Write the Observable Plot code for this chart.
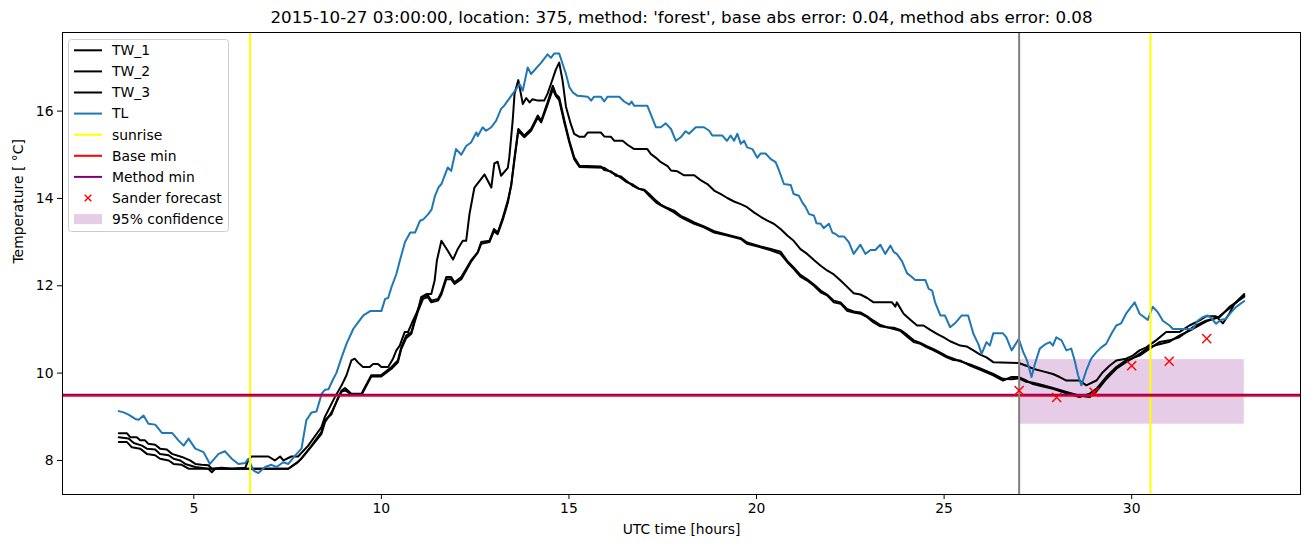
<!DOCTYPE html>
<html>
<head>
<meta charset="utf-8">
<script src="https://cdn.jsdelivr.net/npm/d3@7"></script>
<script src="https://cdn.jsdelivr.net/npm/@observablehq/plot@0.6"></script>
<style>
  html, body { margin: 0; padding: 0; background: white; }
  svg { display: block; }
</style>
</head>
<body>
<div id="chart"></div>
<script>
// ---------- data (hours UTC, temperature °C) ----------
const tw1 = [[3.0,8.62],[3.22,8.62],[3.31,8.53],[3.48,8.53],[3.57,8.46],[3.7,8.46],[3.79,8.38],[3.97,8.36],[4.1,8.27],[4.28,8.25],[4.42,8.15],[4.68,8.08],[4.9,8.0],[5.04,7.92],[5.21,7.9],[5.39,7.89],[5.48,7.81],[5.75,7.83],[6.01,7.81],[6.37,7.83],[6.45,8.0],[6.54,8.09],[6.99,8.09],[7.16,8.0],[7.3,8.09],[7.39,8.0],[7.6,8.09],[7.78,8.09],[8.05,8.34],[8.4,8.76],[8.49,8.99],[8.76,9.45],[8.94,9.72],[9.07,9.95],[9.2,10.29],[9.29,10.33],[9.38,10.24],[9.51,10.14],[9.69,10.14],[9.78,10.21],[9.91,10.21],[10.0,10.14],[10.18,10.14],[10.31,10.33],[10.4,10.52],[10.49,10.63],[10.62,10.94],[10.71,10.94],[10.84,11.2],[10.97,11.43],[11.06,11.74],[11.2,11.81],[11.33,11.81],[11.42,12.12],[11.48,12.58],[11.6,13.03],[11.77,12.8],[11.91,12.6],[12.04,12.85],[12.17,13.03],[12.26,13.03],[12.35,13.65],[12.48,14.25],[12.66,14.45],[12.75,14.55],[12.93,14.25],[13.01,14.8],[13.1,14.84],[13.19,14.52],[13.37,14.7],[13.41,14.94],[13.5,15.78],[13.55,16.4],[13.65,16.71],[13.77,16.16],[13.86,16.3],[13.95,16.2],[14.03,16.27],[14.17,16.24],[14.34,16.24],[14.43,16.4],[14.52,16.62],[14.65,16.95],[14.74,17.11],[14.83,16.7],[14.92,16.1],[15.05,15.7],[15.14,15.48],[15.28,15.41],[15.41,15.41],[15.5,15.51],[15.85,15.51],[15.94,15.42],[16.12,15.41],[16.21,15.32],[16.43,15.32],[16.56,15.23],[16.74,15.13],[17.09,15.13],[17.18,15.02],[17.32,14.93],[17.45,14.83],[17.63,14.74],[17.72,14.64],[17.89,14.62],[18.07,14.53],[18.34,14.53],[18.51,14.42],[18.69,14.33],[18.87,14.18],[19.05,14.1],[19.22,14.01],[19.4,13.93],[19.58,13.87],[19.75,13.8],[19.93,13.68],[20.11,13.58],[20.29,13.49],[20.46,13.42],[20.64,13.3],[20.82,13.15],[20.99,13.03],[21.17,12.84],[21.35,12.73],[21.53,12.59],[21.71,12.46],[21.88,12.35],[22.06,12.26],[22.24,12.12],[22.41,11.98],[22.59,11.83],[22.77,11.8],[22.95,11.72],[23.12,11.62],[23.61,11.62],[23.7,11.52],[23.74,11.62],[23.92,11.36],[24.1,11.22],[24.28,11.09],[24.45,11.09],[24.63,10.99],[24.81,10.9],[24.99,10.82],[25.16,10.73],[25.43,10.63],[25.6,10.61],[25.78,10.52],[25.95,10.43],[26.13,10.36],[26.31,10.25],[26.99,10.23],[27.19,10.17],[27.37,10.1],[27.64,10.04],[27.9,9.98],[28.08,9.91],[28.26,9.83],[28.61,9.83],[28.79,9.72],[29.06,9.83],[29.23,10.02],[29.41,10.17],[29.59,10.29],[29.85,10.33],[30.03,10.4],[30.21,10.52],[30.39,10.59],[30.65,10.75],[30.92,10.94],[31.27,10.94],[31.54,11.09],[31.8,11.2],[31.98,11.3],[32.25,11.3],[32.43,11.14],[32.6,11.36],[32.74,11.59],[33.0,11.81]];

const tw2 = [[3.0,8.53],[3.26,8.5],[3.4,8.4],[3.62,8.34],[3.75,8.27],[3.97,8.25],[4.1,8.15],[4.33,8.12],[4.46,8.04],[4.64,8.0],[4.77,7.92],[5.04,7.85],[5.39,7.81],[5.48,7.73],[5.57,7.81],[7.52,7.81],[7.7,7.92],[7.87,8.04],[8.14,8.34],[8.4,8.65],[8.49,8.92],[8.67,9.06],[8.85,9.45],[8.94,9.6],[9.03,9.66],[9.2,9.53],[9.47,9.53],[9.73,9.95],[9.99,9.95],[10.27,10.14],[10.44,10.29],[10.53,10.59],[10.66,10.86],[10.8,10.94],[10.88,11.2],[10.97,11.45],[11.11,11.74],[11.24,11.78],[11.33,11.66],[11.51,11.7],[11.6,11.85],[11.73,12.2],[11.86,12.2],[11.95,12.08],[12.13,12.2],[12.26,12.39],[12.39,12.58],[12.57,12.77],[12.66,13.0],[12.88,13.03],[13.0,13.3],[13.1,13.22],[13.24,13.57],[13.37,13.95],[13.46,14.3],[13.55,14.94],[13.65,15.59],[13.81,15.44],[13.99,15.59],[14.17,15.9],[14.26,15.78],[14.43,16.2],[14.57,16.58],[14.65,16.39],[14.74,16.31],[14.88,15.78],[15.01,15.32],[15.14,14.94],[15.28,14.75],[15.85,14.73],[15.94,14.65],[16.12,14.62],[16.25,14.52],[16.39,14.5],[16.52,14.41],[16.7,14.29],[16.87,14.22],[17.01,14.18],[17.14,14.06],[17.32,13.91],[17.45,13.84],[17.63,13.76],[17.8,13.68],[17.98,13.57],[18.16,13.49],[18.34,13.42],[18.6,13.34],[18.87,13.22],[19.22,13.15],[19.58,13.07],[19.75,12.96],[20.11,12.88],[20.38,12.81],[20.64,12.73],[20.82,12.54],[20.99,12.39],[21.17,12.21],[21.35,12.12],[21.53,12.0],[21.71,11.85],[21.88,11.78],[22.06,11.62],[22.24,11.59],[22.41,11.43],[22.59,11.39],[22.77,11.36],[22.95,11.28],[23.12,11.16],[23.3,11.07],[23.48,11.05],[23.66,11.01],[23.83,10.97],[24.01,10.84],[24.19,10.71],[24.37,10.67],[24.54,10.59],[24.72,10.52],[24.9,10.44],[25.07,10.36],[25.25,10.3],[25.42,10.29],[25.69,10.17],[25.95,10.08],[26.31,9.95],[26.57,9.83],[26.8,9.91],[26.99,9.91],[27.19,9.83],[27.37,9.75],[27.64,9.69],[27.9,9.64],[28.26,9.54],[28.61,9.45],[28.88,9.53],[29.06,9.64],[29.32,9.91],[29.59,10.14],[29.85,10.29],[30.21,10.4],[30.48,10.56],[30.74,10.71],[31.01,10.75],[31.27,10.82],[31.63,11.05],[31.98,11.2],[32.34,11.28],[32.6,11.51],[33.0,11.75]];

const tw3 = [[3.0,8.42],[3.22,8.42],[3.35,8.3],[3.57,8.27],[3.75,8.15],[3.97,8.12],[4.1,8.04],[4.33,8.0],[4.46,7.92],[4.68,7.9],[4.86,7.81],[7.52,7.81],[7.78,7.96],[8.05,8.23],[8.4,8.6],[8.5,8.88],[8.67,9.1],[8.85,9.42],[8.94,9.58],[9.05,9.6],[9.22,9.5],[9.47,9.5],[9.73,9.92],[9.99,9.92],[10.27,10.1],[10.44,10.25],[10.53,10.55],[10.66,10.8],[10.8,10.9],[10.88,11.15],[10.97,11.4],[11.11,11.7],[11.24,11.74],[11.33,11.62],[11.51,11.66],[11.6,11.8],[11.73,12.15],[11.86,12.15],[11.95,12.04],[12.13,12.15],[12.26,12.35],[12.39,12.55],[12.57,12.76],[12.66,12.96],[12.88,13.0],[13.0,13.25],[13.1,13.18],[13.24,13.52],[13.37,13.9],[13.46,14.3],[13.55,14.9],[13.65,15.55],[13.81,15.4],[13.99,15.55],[14.17,15.85],[14.26,15.74],[14.43,16.15],[14.57,16.5],[14.65,16.35],[14.74,16.25],[14.88,15.72],[15.01,15.28],[15.14,14.9],[15.28,14.72],[15.94,14.7],[16.12,14.6],[16.25,14.55],[16.39,14.47],[16.52,14.38],[16.7,14.32],[16.87,14.22],[17.01,14.2],[17.14,14.1],[17.32,13.95],[17.45,13.86],[17.63,13.78],[17.8,13.72],[17.98,13.6],[18.16,13.53],[18.34,13.45],[18.6,13.36],[18.87,13.25],[19.22,13.17],[19.58,13.09],[19.75,12.99],[20.11,12.9],[20.38,12.84],[20.64,12.78],[20.82,12.57],[20.99,12.42],[21.17,12.25],[21.35,12.15],[21.53,12.03],[21.71,11.89],[21.88,11.8],[22.06,11.66],[22.24,11.62],[22.41,11.47],[22.59,11.41],[22.77,11.39],[22.95,11.3],[23.12,11.2],[23.3,11.1],[23.48,11.05],[23.66,11.04],[23.83,10.99],[24.01,10.88],[24.19,10.75],[24.37,10.69],[24.54,10.62],[24.72,10.55],[24.9,10.47],[25.07,10.39],[25.25,10.33],[25.43,10.27],[25.69,10.2],[25.95,10.11],[26.31,9.98],[26.57,9.87],[26.8,9.86],[26.99,9.88],[27.19,9.8],[27.37,9.78],[27.64,9.72],[27.9,9.66],[28.26,9.57],[28.61,9.48],[28.88,9.45],[29.06,9.58],[29.32,9.86],[29.59,10.1],[29.85,10.25],[30.21,10.44],[30.48,10.6],[30.74,10.66],[31.01,10.72],[31.27,10.86],[31.63,11.01],[31.98,11.18],[32.34,11.3],[32.6,11.48],[33.0,11.78]];

const tl = [[3.0,9.13],[3.13,9.1],[3.26,9.05],[3.44,8.95],[3.53,8.93],[3.66,9.03],[3.79,8.84],[3.97,8.82],[4.15,8.63],[4.42,8.63],[4.59,8.46],[4.73,8.34],[4.86,8.5],[5.04,8.27],[5.26,8.19],[5.43,7.92],[5.66,8.15],[5.83,8.21],[6.01,8.04],[6.19,7.92],[6.37,7.94],[6.45,8.04],[6.59,7.77],[6.72,7.71],[6.9,7.85],[7.07,7.9],[7.21,7.85],[7.38,7.96],[7.52,7.92],[7.7,8.11],[7.87,8.27],[8.0,8.92],[8.14,9.1],[8.27,9.12],[8.41,9.53],[8.5,9.62],[8.59,9.63],[8.72,9.87],[8.8,10.0],[8.94,10.36],[9.07,10.67],[9.25,11.01],[9.38,11.16],[9.52,11.32],[9.7,11.42],[10.0,11.42],[10.1,11.7],[10.18,11.72],[10.27,11.97],[10.4,12.27],[10.5,12.6],[10.63,13.0],[10.77,13.22],[10.9,13.22],[11.03,13.49],[11.12,13.52],[11.25,13.64],[11.34,13.75],[11.43,14.06],[11.52,14.25],[11.6,14.33],[11.77,14.71],[11.86,14.63],[11.99,15.13],[12.13,15.0],[12.26,15.2],[12.39,15.28],[12.53,15.51],[12.57,15.43],[12.7,15.63],[12.79,15.55],[12.93,15.63],[13.06,15.78],[13.19,16.05],[13.28,16.13],[13.46,16.35],[13.59,16.5],[13.68,16.62],[13.77,16.47],[13.9,17.0],[13.99,16.85],[14.26,17.11],[14.43,17.3],[14.52,17.22],[14.61,17.32],[14.74,17.32],[14.92,16.85],[15.01,16.55],[15.1,16.43],[15.23,16.35],[15.5,16.33],[15.59,16.24],[15.67,16.33],[15.85,16.33],[15.94,16.22],[16.03,16.33],[16.34,16.33],[16.47,16.22],[16.61,16.15],[16.67,16.22],[16.74,16.12],[17.09,16.12],[17.18,15.93],[17.32,15.63],[17.45,15.63],[17.58,15.72],[17.72,15.59],[17.85,15.32],[17.98,15.4],[18.11,15.54],[18.2,15.48],[18.38,15.63],[18.6,15.63],[18.74,15.55],[18.82,15.44],[19.09,15.44],[19.21,15.32],[19.31,15.44],[19.4,15.32],[19.49,15.48],[19.58,15.25],[19.67,15.32],[19.75,15.17],[19.89,15.13],[20.02,14.93],[20.11,15.03],[20.24,15.03],[20.38,14.9],[20.51,14.83],[20.6,14.64],[20.73,14.33],[20.91,14.31],[20.99,14.1],[21.13,14.06],[21.22,13.91],[21.31,13.8],[21.4,13.64],[21.53,13.61],[21.6,13.43],[21.71,13.42],[21.79,13.32],[21.93,13.42],[22.02,13.22],[22.1,13.19],[22.19,13.13],[22.33,13.13],[22.46,13.0],[22.59,12.73],[22.68,12.84],[22.77,12.94],[22.9,12.73],[23.04,12.82],[23.17,12.82],[23.3,12.94],[23.43,12.73],[23.57,12.92],[23.66,12.77],[23.74,12.73],[23.88,12.56],[24.01,12.29],[24.14,12.2],[24.23,12.13],[24.5,12.13],[24.59,11.93],[24.68,11.89],[24.76,11.62],[24.9,11.32],[25.02,11.32],[25.16,11.05],[25.29,11.14],[25.47,11.32],[25.64,11.32],[25.78,10.9],[25.91,10.67],[26.0,10.44],[26.13,10.71],[26.22,10.63],[26.31,10.91],[26.57,10.91],[26.66,10.82],[26.8,10.52],[26.88,10.63],[26.99,10.78],[27.11,10.48],[27.21,10.29],[27.33,9.91],[27.42,10.21],[27.55,10.56],[27.68,10.65],[27.82,10.71],[27.9,10.63],[27.99,10.82],[28.13,10.75],[28.26,10.52],[28.39,10.56],[28.48,10.29],[28.57,9.95],[28.66,9.72],[28.79,10.06],[28.92,10.33],[29.06,10.48],[29.19,10.59],[29.32,10.67],[29.46,10.9],[29.59,11.09],[29.72,11.14],[29.85,11.36],[30.08,11.62],[30.21,11.36],[30.43,11.22],[30.56,11.52],[30.7,11.39],[30.83,11.2],[31.01,11.09],[31.1,11.01],[31.63,11.01],[31.76,11.2],[31.89,11.28],[32.03,11.32],[32.11,11.27],[32.25,11.13],[32.38,11.22],[32.51,11.24],[32.65,11.39],[32.78,11.51],[33.0,11.65]];

const sunrise = [6.5, 30.5];
const forecastStart = 27;
const baseMin = 9.48;
const methodMin = 9.51;
const forecastHours = [27, 28, 29, 30, 31, 32];
const forecastTemps = [9.6, 9.44, 9.56, 10.17, 10.27, 10.79];
const confidence = [{x1: 27, x2: 33, y1: 8.83, y2: 10.31}];
const xTicks = [5, 10, 15, 20, 25, 30];
const yTicks = [8, 10, 12, 14, 16];
const title = "2015-10-27 03:00:00, location: 375, method: 'forest', base abs error: 0.04, method abs error: 0.08";

const forecast = forecastHours.map((h, i) => ({h, v: forecastTemps[i]}));

const font = "DejaVu Sans, sans-serif";
const lineOpts = (stroke) => ({x: d => d[0], y: d => d[1], stroke, strokeWidth: 2, curve: "linear"});

const chart = Plot.plot({
  width: 1311,
  height: 547,
  marginLeft: 62,
  marginRight: 11,
  marginTop: 32,
  marginBottom: 53,
  x: {domain: [1.5, 34.5]},
  y: {domain: [7.22, 17.8]},
  style: {fontFamily: font, fontSize: "13.9px", color: "black", background: "white", overflow: "visible"},
  marks: [
    Plot.rect(confidence, {x1: "x1", x2: "x2", y1: "y1", y2: "y2", fill: "#800080", fillOpacity: 0.2}),
    Plot.line(tw1, lineOpts("black")),
    Plot.line(tw2, lineOpts("black")),
    Plot.line(tw3, lineOpts("black")),
    Plot.line(tl, lineOpts("#1f77b4")),
    Plot.ruleX(sunrise, {stroke: "#ffff00", strokeWidth: 2}),
    Plot.ruleY([baseMin], {stroke: "#ff0000", strokeWidth: 2}),
    Plot.ruleY([methodMin], {stroke: "#800080", strokeWidth: 1.5}),
    Plot.ruleX([forecastStart], {stroke: "#808080", strokeWidth: 2}),
    Plot.dot(forecast, {x: "h", y: "v", symbol: "times", stroke: "#ff0000", strokeWidth: 1.4, r: 4.2}),
    Plot.frame({stroke: "black", strokeWidth: 1}),
    Plot.axisX({ticks: xTicks, tickSize: 5, tickPadding: 4, label: null, fontSize: 13.9}),
    Plot.axisY({ticks: yTicks, tickSize: 5, tickPadding: 4, label: null, fontSize: 13.9}),
    Plot.text([title], {text: d => d, frameAnchor: "top", dy: -15, fontSize: 16.7, lineAnchor: "middle", fill: "black"}),
    Plot.text(["UTC time [hours]"], {text: d => d, frameAnchor: "bottom", dy: 35, fontSize: 13.9, lineAnchor: "middle", fill: "black"}),
    Plot.text(["Temperature [ \u00b0C]"], {text: d => d, frameAnchor: "left", dx: -44, rotate: -90, fontSize: 13.9, lineAnchor: "middle", fill: "black"})
  ]
});

document.getElementById("chart").appendChild(chart);

// ---------- legend (drawn inside the plot's SVG) ----------
const legendItems = [
  {label: "TW_1", kind: "line", color: "black"},
  {label: "TW_2", kind: "line", color: "black"},
  {label: "TW_3", kind: "line", color: "black"},
  {label: "TL", kind: "line", color: "#1f77b4"},
  {label: "sunrise", kind: "line", color: "#ffff00"},
  {label: "Base min", kind: "line", color: "#ff0000"},
  {label: "Method min", kind: "line", color: "#800080"},
  {label: "Sander forecast", kind: "x", color: "#ff0000"},
  {label: "95% confidence", kind: "patch", color: "#800080"}
];
const svg = d3.select(chart);
const lg = svg.append("g").attr("font-family", font).attr("font-size", "13.9px").attr("text-anchor", "start");
lg.append("rect").attr("x", 68.5).attr("y", 39.5).attr("width", 160).attr("height", 192)
  .attr("rx", 3).attr("fill", "white").attr("fill-opacity", 0.8).attr("stroke", "#cccccc");
legendItems.forEach((it, i) => {
  const cy = 50.3 + i * 21.1;
  if (it.kind === "line") {
    lg.append("line").attr("x1", 74).attr("x2", 102).attr("y1", cy).attr("y2", cy)
      .attr("stroke", it.color).attr("stroke-width", 2);
  } else if (it.kind === "x") {
    const s = 3.3;
    lg.append("path").attr("d", `M${88 - s},${cy - s}L${88 + s},${cy + s}M${88 - s},${cy + s}L${88 + s},${cy - s}`)
      .attr("stroke", it.color).attr("stroke-width", 1.4).attr("fill", "none");
  } else {
    lg.append("rect").attr("x", 74).attr("y", cy - 5).attr("width", 28).attr("height", 10)
      .attr("fill", it.color).attr("fill-opacity", 0.2);
  }
  lg.append("text").attr("x", 112).attr("y", cy).attr("dy", "0.35em").attr("fill", "black")
    .attr("text-anchor", "start").text(it.label);
});
</script>
</body>
</html>
